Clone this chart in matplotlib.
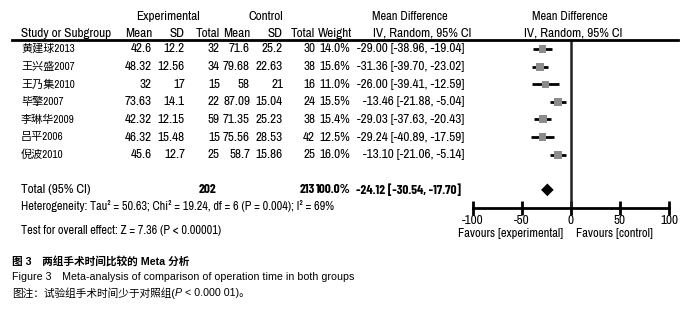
import numpy as np
import matplotlib.pyplot as plt
from matplotlib.transforms import blended_transform_factory
from matplotlib import font_manager

studies = ['黄建球2013', '王兴盛2007', '王乃集2010', '毕擎2007', '李琳华2009', '吕平2006', '倪波2010']
exp_mean = ['42.6', '48.32', '32', '73.63', '42.32', '46.32', '45.6']
exp_sd = ['12.2', '12.56', '17', '14.1', '12.15', '15.48', '12.7']
exp_n = [32, 34, 15, 22, 59, 15, 25]
ctl_mean = ['71.6', '79.68', '58', '87.09', '71.35', '75.56', '58.7']
ctl_sd = ['25.2', '22.63', '21', '15.04', '25.23', '28.53', '15.86']
ctl_n = [30, 38, 16, 24, 38, 42, 25]
weight = [14.0, 15.6, 11.0, 15.5, 15.4, 12.5, 16.0]
md = [-29.00, -31.36, -26.00, -13.46, -29.03, -29.24, -13.10]
ci_lo = [-38.96, -39.70, -39.41, -21.88, -37.63, -40.89, -21.06]
ci_hi = [-19.04, -23.02, -12.59, -5.04, -20.43, -17.59, -5.14]
total_md, total_lo, total_hi = -24.12, -30.54, -17.70
ticks = [-100, -50, 0, 50, 100]


def pick(cands, bold=False):
    for c in cands:
        for f in font_manager.fontManager.ttflist:
            w = f.weight if isinstance(f.weight, int) else 400
            if f.name == c and (w >= 700 or not bold):
                return c
    return 'DejaVu Sans'


narrow = pick(['Liberation Sans Narrow', 'Archivo Narrow', 'Roboto Condensed'])
narrow_b = pick(['Liberation Sans Narrow', 'Barlow Condensed', 'Asap Condensed'], bold=True)
tfont = [narrow, 'Noto Sans CJK SC']
bfont = [narrow_b, 'Noto Sans CJK SC']
cfont = ['Liberation Sans', 'Noto Sans CJK SC']
fs = 9.5

W, H = 692, 310
fig = plt.figure(figsize=(W / 100, H / 100), dpi=100)
ax = fig.add_axes([473 / W, 1 - 208 / H, 196 / W, 168 / H])
ax.set_xlim(-100, 100)
ax.set_ylim(9.03, -0.51)

# forest marks
rows = np.arange(len(studies))
ax.hlines(rows, ci_lo, ci_hi, color='black', lw=2)
ax.scatter(md, rows, marker='s', s=[w * 2.2 for w in weight], color='#8c8c8c', zorder=3, linewidths=0)
ax.fill([total_lo, total_md, total_hi, total_md], [8, 8 - 0.36, 8, 8 + 0.36], color='black', lw=0)
ax.axvline(0, color='#222222', lw=1.8)

for s in ['top', 'right', 'left']:
    ax.spines[s].set_visible(False)
ax.spines['bottom'].set_linewidth(2)
ax.set_yticks([])
ax.set_xticks(ticks)
ax.set_xticklabels([str(t) for t in ticks], family=tfont, fontsize=fs)
ax.tick_params(axis='x', direction='inout', length=10, width=2, pad=0)

tr = blended_transform_factory(fig.transFigure, ax.transData)


def col(x, y, s, ha='right', size=fs, bold=False):
    return fig.text(x / W, y, s, transform=tr, ha=ha, va='center',
                    family=bfont if bold else tfont, fontsize=size,
                    weight='bold' if bold else 'normal')


# header
hy1, hy2 = -1.85, -0.9
col(168, hy1, 'Experimental', ha='center')
col(266, hy1, 'Control', ha='center')
col(410, hy1, 'Mean Difference', ha='center', size=9)
col(570, hy1, 'Mean Difference', ha='center', size=9)
col(21, hy2, 'Study or Subgroup', ha='left')
for x, s in [(152, 'Mean'), (185, 'SD'), (220, 'Total'), (250, 'Mean'), (283, 'SD'), (315, 'Total'), (352, 'Weight')]:
    col(x, hy2, s)
col(422, hy2, 'IV, Random, 95% CI', ha='center')
col(573, hy2, 'IV, Random, 95% CI', ha='center')
fig.add_artist(plt.Line2D([12 / W, 678 / W], [1 - 40 / H, 1 - 40 / H], color='black', lw=2))

for i in rows:
    col(21, i, studies[i], ha='left', size=8)
    col(152, i, exp_mean[i])
    col(185, i, exp_sd[i])
    col(220, i, str(exp_n[i]))
    col(250, i, ctl_mean[i])
    col(283, i, ctl_sd[i])
    col(315, i, str(ctl_n[i]))
    col(350, i, f'{weight[i]:.1f}%')
    col(464, i, f'{md[i]:.2f} [{ci_lo[i]:.2f}, {ci_hi[i]:.2f}]')

col(21, 8, 'Total (95% CI)', ha='left')
col(216, 8, str(sum(exp_n)), bold=True)
col(315, 8, str(sum(ctl_n)), bold=True)
col(351, 8, '100.0%', bold=True)
col(461, 8, f'{total_md:.2f} [{total_lo:.2f}, {total_hi:.2f}]', bold=True)
col(21, 8.9, 'Heterogeneity: Tau² = 50.63; Chi² = 19.24, df = 6 (P = 0.004); I² = 69%', ha='left', size=8.8)
col(21, 10.28, 'Test for overall effect: Z = 7.36 (P < 0.00001)', ha='left', size=8.8)

col(563, 10.5, 'Favours [experimental]', size=9)
col(576, 10.5, 'Favours [control]', ha='left', size=9)

# caption
cs = 7.7
fig.text(12 / W, 1 - 261 / H, '图 3　两组手术时间比较的 Meta 分析', ha='left', va='center',
         family=cfont, fontsize=cs, weight='bold')
fig.text(12 / W, 1 - 277 / H, 'Figure 3　Meta-analysis of comparison of operation time in both groups',
         ha='left', va='center', family=cfont, fontsize=cs)
t1 = fig.text(12 / W, 1 - 293 / H, '图注：试验组手术时间少于对照组(', ha='left', va='center',
              family=cfont, fontsize=cs)
fig.canvas.draw()
r = fig.canvas.get_renderer()
bb1 = t1.get_window_extent(r)
t2 = fig.text(bb1.x1 / W, 1 - 293 / H, 'P', ha='left', va='center', family=cfont, fontsize=cs, style='italic')
bb2 = t2.get_window_extent(r)
fig.text(bb2.x1 / W, 1 - 293 / H, ' < 0.000 01)。', ha='left', va='center', family=cfont, fontsize=cs)

fig.savefig('out.png', dpi=100)
